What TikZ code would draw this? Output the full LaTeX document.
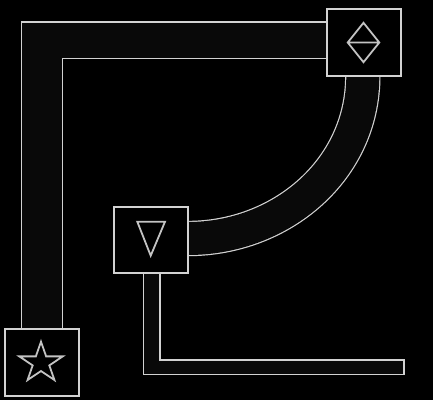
\documentclass[tikz,border=0pt]{standalone}
\usetikzlibrary{calc}
\definecolor{pipeline}{RGB}{210,210,210}
\definecolor{boxline}{RGB}{210,210,210}
\definecolor{pipefill}{RGB}{9,9,9}
\definecolor{symcol}{RGB}{195,195,195}
\pgfdeclarelayer{back}
\pgfdeclarelayer{pipes}
\pgfsetlayers{back,pipes,main}
\begin{document}
\begin{tikzpicture}[x=1pt,y=-1pt,
  box/.style={draw=boxline, line width=1.2pt, fill=black, minimum width=74pt, minimum height=67pt, inner sep=0pt, outer sep=0pt},
  pipe/.style={draw=pipeline, line width=1.2pt, fill=pipefill, line join=miter},
  pipetube/.style={draw=pipeline, line width=1.2pt, double=pipefill, double distance=33pt},
  sym/.style={draw=symcol, line width=1.8pt, line join=miter}]
\begin{pgfonlayer}{back}
\fill[black] (0,0) rectangle (433,400);
\end{pgfonlayer}
\useasboundingbox (0,0) rectangle (433,400);
% boxes
\node[box] (dia) at (364,42.5) {};
\node[box, minimum height=66pt] (tri) at (151,240) {};
\node[box] (star) at (42,362.5) {};
\coordinate (end3) at (404,367.3);
% symbols
\begin{scope}[shift={(dia.center)}]
\draw[sym] (-0.5,-19.7) -- (15.3,0) -- (-0.5,19.7) -- (-16.3,0) -- cycle (-16.3,0) -- (15.3,0);
\end{scope}
\begin{scope}[shift={(tri.center)}]
\draw[sym] (-13.7,-18.3) -- (14,-18.3) -- (-0.3,15.7) -- cycle;
\end{scope}
\begin{scope}[shift={(star.center)}, shift={(-1,0.4)}]
\draw[sym] (0,-21.2) -- (-5.14,-6.55) -- (-21.78,-6.55) -- (-8.32,2.5) -- (-13.46,17.15) -- (0,8.1) -- (13.46,17.15) -- (8.32,2.5) -- (21.78,-6.55) -- (5.14,-6.55) -- cycle;
\end{scope}
% pipes
\begin{pgfonlayer}{pipes}
\filldraw[pipe] ($(star.north)+(-20.7,0)$) |- ($(dia.west)+(0,-20.5)$) -- ($(dia.west)+(0,16.2)$) -| ($(star.north)+(20.3,0)$) -- cycle;
\filldraw[pipe] ($(tri.south)+(-7.7,0)$) |- ($(end3)+(0,7.4)$) -- ($(end3)+(0,-7.3)$) -| ($(tri.south)+(9,0)$) -- cycle;
\coordinate (p2a) at ($(dia.south)+(-1.2,0)$);
\coordinate (p2b) at ($(tri.east)+(0,-1.5)$);
\draw[pipetube] (p2a) .. controls ($(p2a)+(0,93.5)$) and ($(p2b)+(93.5,0)$) .. (p2b);
\end{pgfonlayer}
\end{tikzpicture}
\end{document}
